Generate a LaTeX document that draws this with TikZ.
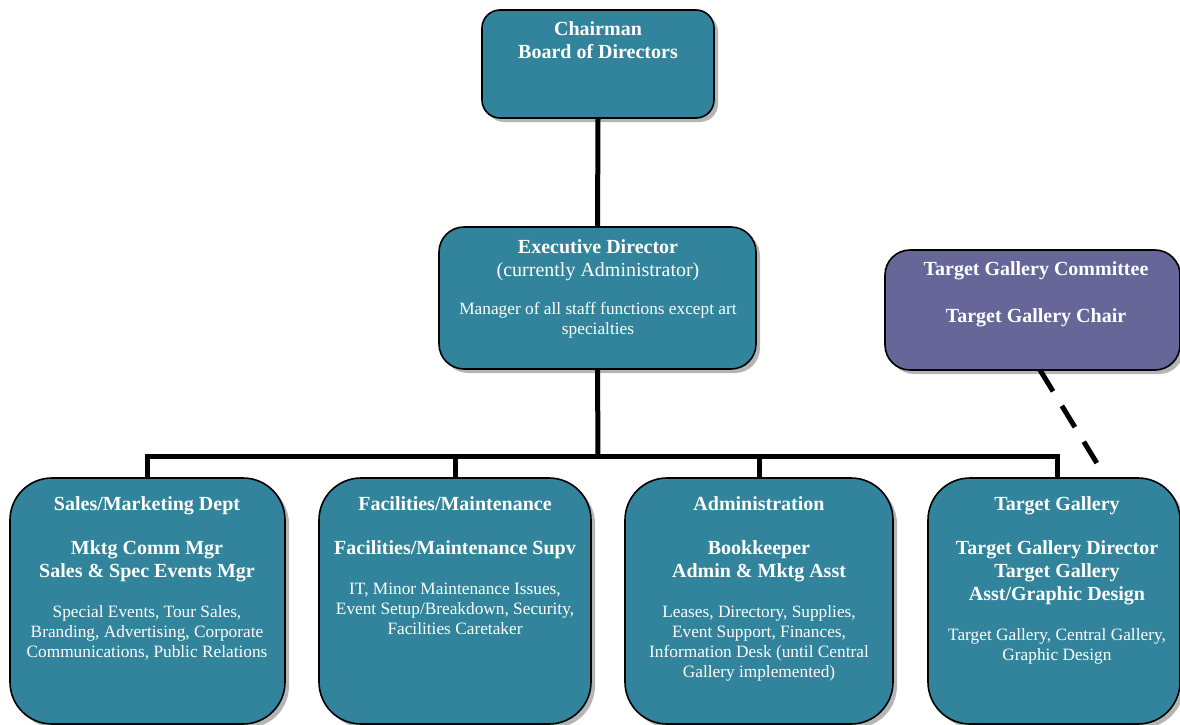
\documentclass[tikz,border=0pt]{standalone}
\usepackage{fontspec}
\setmainfont{Liberation Serif}
\usetikzlibrary{shadows}
\definecolor{tealbox}{HTML}{31849B}
\definecolor{purpbox}{HTML}{666699}
\definecolor{shadgray}{HTML}{A8A8A8}
\tikzset{
  box/.style={draw=black, line width=1.6pt, fill=tealbox, inner sep=0pt, outer sep=0pt,
    drop shadow={shadow xshift=4pt, shadow yshift=-4pt, fill=shadgray, opacity=0.85}},
  bt/.style={text=white, font=\fontsize{20}{23}\selectfont\bfseries, anchor=base, inner sep=0pt},
  nt/.style={text=white, font=\fontsize{17.3}{20}\selectfont, anchor=base, inner sep=0pt},
  mt/.style={text=white, font=\fontsize{20}{23}\selectfont, anchor=base, inner sep=0pt},
  conn/.style={line width=5pt, draw=black},
  dashconn/.style={line width=5pt, draw=black, dash pattern=on 25pt off 17pt},
}
\begin{document}
\begin{tikzpicture}[x=1pt,y=-1pt]
\useasboundingbox (0,0) rectangle (1180,725);
% boxes
\node[box, rounded corners=18pt, minimum width=232pt, minimum height=108pt] (chair) at (598,64) {};
\node[box, rounded corners=25pt, minimum width=317pt, minimum height=142pt] (exec) at (597.5,298) {};
\node[box, fill=purpbox, rounded corners=25pt, minimum width=295pt, minimum height=120pt] (comm) at (1032.5,310) {};
\node[box, rounded corners=42pt, minimum width=275pt, minimum height=246pt] (sales) at (147.5,601) {};
\node[box, rounded corners=42pt, minimum width=272pt, minimum height=246pt] (fac) at (455,601) {};
\node[box, rounded corners=42pt, minimum width=268pt, minimum height=246pt] (adm) at (759,601) {};
\node[box, rounded corners=42pt, minimum width=252pt, minimum height=246pt] (tg) at (1054,601) {};
% connectors
\coordinate (bus) at (598,456);
\coordinate (dashend) at (1098,465);
\draw[conn] (chair.south) -- (exec.north);
\draw[conn] (exec.south) -- (bus);
\draw[conn] (sales.north) |- (bus);
\draw[conn] ([xshift=3pt]tg.north) |- (bus);
\draw[conn] (fac.north) -- (fac.north |- bus);
\draw[conn] (adm.north) -- (adm.north |- bus);
\draw[dashconn] ([xshift=7.5pt]comm.south) -- (dashend);
% chairman
\node[bt] (c1) at (598,36) {Chairman};
\node[bt] (c2) at (598,59) {Board of Directors};
% executive
\node[bt] (e1) at (598,253) {Executive Director};
\node[mt] (e2) at (598,276) {(currently Administrator)};
\node[nt] (e3) at (598,314) {Manager of all staff functions except art};
\node[nt] (e4) at (598,334) {specialties};
% committee
\node[bt] (g1) at (1036,275) {Target Gallery Committee};
\node[bt] (g2) at (1036,322) {Target Gallery Chair};
% sales
\node[bt] (s1) at (147,510) {Sales/Marketing Dept};
\node[bt] (s2) at (147,554) {Mktg Comm Mgr};
\node[bt] (s3) at (147,577) {Sales \& Spec Events Mgr};
\node[nt] (s4) at (147,617) {Special Events, Tour Sales,};
\node[nt] (s5) at (147,637) {Branding, Advertising, Corporate};
\node[nt] (s6) at (147,657) {Communications, Public Relations};
% facilities
\node[bt] (f1) at (455,510) {Facilities/Maintenance};
\node[bt] (f2) at (455,554) {Facilities/Maintenance Supv};
\node[nt] (f3) at (455,594) {IT, Minor Maintenance Issues,};
\node[nt] (f4) at (455,614) {Event Setup/Breakdown, Security,};
\node[nt] (f5) at (455,634) {Facilities Caretaker};
% administration
\node[bt] (a1) at (759,510) {Administration};
\node[bt] (a2) at (759,554) {Bookkeeper};
\node[bt] (a3) at (759,577) {Admin \& Mktg Asst};
\node[nt] (a4) at (759,617) {Leases, Directory, Supplies,};
\node[nt] (a5) at (759,637) {Event Support, Finances,};
\node[nt] (a6) at (759,657) {Information Desk (until Central};
\node[nt] (a7) at (759,677) {Gallery implemented)};
% target gallery
\node[bt] (t1) at (1057,510) {Target Gallery};
\node[bt] (t2) at (1057,554) {Target Gallery Director};
\node[bt] (t3) at (1057,577) {Target Gallery};
\node[bt] (t4) at (1057,600) {Asst/Graphic Design};
\node[nt] (t5) at (1057,640) {Target Gallery, Central Gallery,};
\node[nt] (t6) at (1057,660) {Graphic Design};
\end{tikzpicture}
\end{document}
